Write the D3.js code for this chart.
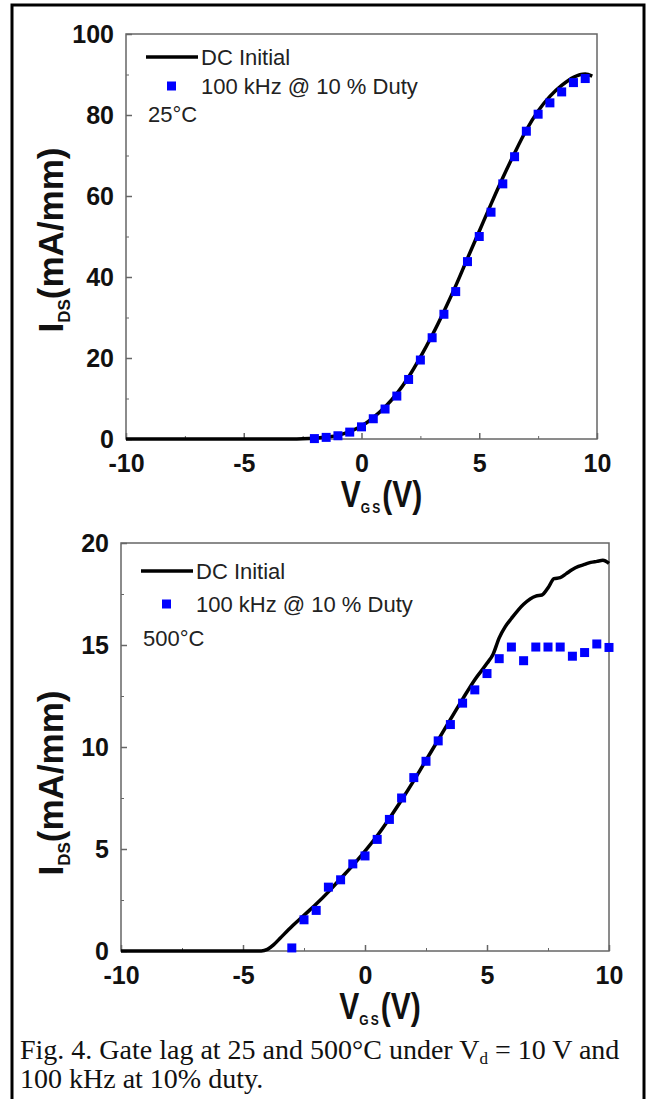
<!DOCTYPE html>
<html>
<head>
<meta charset="utf-8">
<script src="https://cdn.jsdelivr.net/npm/d3@7"></script>
<style>
  body { margin: 0; background: #fff; }
  text { font-family: "Liberation Sans", Arial, sans-serif; }
  text.cap { font-family: "Liberation Serif", "Times New Roman", serif; }
</style>
</head>
<body>
<svg id="fig" width="650" height="1099"></svg>
<script>
// --- data ---
var xTicks = [-10, -5, 0, 5, 10];
var yTicksTop = [0, 20, 40, 60, 80, 100];
var yTicksBot = [0, 5, 10, 15, 20];

// 25 C, DC sweep
var dcVTop = [-10, -9, -8, -7, -6, -5, -4, -3, -2.5, -2, -1.5, -1, -0.5, 0, 0.5, 1, 1.5, 2, 2.5, 3, 3.5, 4, 4.5, 5, 5.5, 6, 6.5, 7, 7.5, 8, 8.5, 9, 9.5, 9.8];
var dcITop = [0, 0, 0, 0, 0, 0, 0, 0, 0.05, 0.2, 0.5, 0.9, 1.8, 3.2, 5.3, 7.9, 11.2, 15.3, 20.2, 25.6, 31.5, 37.8, 44.6, 51.3, 58, 64.5, 70.6, 76.3, 81, 84.6, 87.3, 89.3, 90.1, 89.6];
// 25 C, 100 kHz pulsed
var pulseVTop = [-2, -1.5, -1, -0.5, 0, 0.5, 1, 1.5, 2, 2.5, 3, 3.5, 4, 4.5, 5, 5.5, 6, 6.5, 7, 7.5, 8, 8.5, 9, 9.5];
var pulseITop = [0.1, 0.4, 0.8, 1.7, 3.0, 5.0, 7.4, 10.6, 14.7, 19.5, 25, 30.8, 36.4, 43.8, 50, 56, 63, 69.7, 76, 80.2, 83, 85.7, 88, 89];

// 500 C, DC sweep
var dcVBot = [-10, -8, -6, -5, -4.5, -4.25, -4, -3.75, -3.5, -3, -2.5, -2, -1.5, -1, -0.5, 0, 0.5, 1, 1.5, 2, 2.5, 3, 3.5, 4, 4.5, 5, 5.25, 5.5, 5.75, 6, 6.5, 7, 7.25, 7.5, 7.75, 8, 8.25, 8.5, 8.75, 9, 9.25, 9.5, 9.75, 10];
var dcIBot = [0, 0, 0, 0, 0, 0, 0.08, 0.3, 0.6, 1.2, 1.75, 2.3, 2.9, 3.55, 4.2, 4.9, 5.65, 6.5, 7.4, 8.35, 9.35, 10.35, 11.35, 12.35, 13.3, 14.1, 14.55, 15.35, 15.9, 16.3, 17.0, 17.4, 17.45, 17.8, 18.25, 18.3, 18.5, 18.7, 18.85, 18.95, 19.05, 19.1, 19.15, 19.0];
// 500 C, 100 kHz pulsed
var pulseVBot = [-3, -2.5, -2, -1.5, -1, -0.5, 0, 0.5, 1, 1.5, 2, 2.5, 3, 3.5, 4, 4.5, 5, 5.5, 6, 6.5, 7, 7.5, 8, 8.5, 9, 9.5, 10];
var pulseIBot = [0.15, 1.53, 1.99, 3.13, 3.49, 4.27, 4.66, 5.47, 6.45, 7.5, 8.5, 9.3, 10.3, 11.1, 12.15, 12.8, 13.6, 14.33, 14.9, 14.23, 14.9, 14.9, 14.9, 14.45, 14.63, 15.05, 14.88];

var legendNames = ['DC Initial', '100 kHz @ 10 % Duty'];

var svg = d3.select('#fig');

// outer frame of the figure
svg.append('rect')
	.attr('x', 12).attr('y', 5).attr('width', 632).attr('height', 1096)
	.style('fill', 'none').style('stroke', '#000').style('stroke-width', 3);

function zip(a, b) { return a.map(function (d, i) { return [d, b[i]]; }); }
function plain(d) { return String(d); }

function styleTicks(a, w) {
	a.select('.domain').remove();
	a.selectAll('line').style('stroke', '#666').style('stroke-width', w);
	a.selectAll('text').style('font-size', '25px').style('font-weight', 'bold').style('fill', '#111')
		.attr('font-family', null);
}

function drawPanel(p) {
	var x = d3.scaleLinear().domain([-10, 10]).range([p.left, p.right]),
		y = d3.scaleLinear().domain([0, p.yMax]).range([p.bottom, p.top]),
		g = svg.append('g');

	// plot box
	g.append('rect')
		.attr('x', p.left).attr('y', p.top)
		.attr('width', p.right - p.left).attr('height', p.bottom - p.top)
		.style('fill', 'none').style('stroke', '#666').style('stroke-width', 1.5);

	// minor ticks, then major ticks with labels (all pointing inward)
	var xMinor = d3.range(-7.5, 10, 5), yMinor = d3.range(p.yMinor, p.yMax, p.yMinor * 2);
	g.append('g').attr('transform', 'translate(0,' + p.bottom + ')')
		.call(d3.axisBottom(x).tickValues(xMinor).tickSize(-3).tickFormat(''))
		.call(styleTicks, 1);
	g.append('g').attr('transform', 'translate(' + p.left + ',0)')
		.call(d3.axisLeft(y).tickValues(yMinor).tickSize(-3).tickFormat(''))
		.call(styleTicks, 1);

	g.append('g').attr('transform', 'translate(0,' + p.bottom + ')')
		.call(d3.axisBottom(x).tickValues(xTicks).tickSize(-6).tickPadding(15).tickFormat(plain))
		.call(styleTicks, 1.5);
	g.append('g').attr('transform', 'translate(' + p.left + ',0)')
		.call(d3.axisLeft(y).tickValues(p.yTicks).tickSize(-6).tickPadding(12).tickFormat(plain))
		.call(styleTicks, 1.5);

	// DC curve
	var line = d3.line().x(function (d) { return x(d[0]); }).y(function (d) { return y(d[1]); }).curve(d3.curveMonotoneX);
	g.append('path').datum(zip(p.dcV, p.dcI)).attr('d', line)
		.style('fill', 'none').style('stroke', '#000').style('stroke-width', 3.5).style('stroke-linejoin', 'round');

	// pulsed points
	g.selectAll('rect.pt').data(zip(p.pV, p.pI)).enter().append('rect').attr('class', 'pt')
		.attr('x', function (d) { return x(d[0]) - 4.5; })
		.attr('y', function (d) { return y(d[1]) - 4.5; })
		.attr('width', 9).attr('height', 9)
		.style('fill', '#0000ff');

	// legend
	var lx = p.left, ly = p.top;
	g.append('line').attr('x1', lx + 20).attr('x2', lx + 72).attr('y1', ly + p.leg[0]).attr('y2', ly + p.leg[0])
		.style('stroke', '#000').style('stroke-width', 3.5);
	g.append('rect').attr('x', lx + 41).attr('y', ly + p.leg[1] - 4.5).attr('width', 9).attr('height', 9).style('fill', '#0000ff');
	g.selectAll('text.leg').data(legendNames).enter().append('text').attr('class', 'leg')
		.attr('x', lx + 75).attr('y', function (d, i) { return ly + p.leg[i] + 8; })
		.style('font-size', '22px').style('fill', '#222').text(function (d) { return d; });
	g.append('text').attr('x', lx + 22).attr('y', ly + p.leg[2] + 8)
		.style('font-size', '22px').style('fill', '#222').text(p.temp);

	// axis titles (slightly tall lettering, as in the original)
	var xt = g.append('text')
		.attr('transform', 'translate(' + ((p.left + p.right) / 2 + p.xtdx) + ',' + (p.bottom + 68) + ') scale(1,1.2)')
		.attr('text-anchor', 'middle').style('font-size', '30px').style('font-weight', 'bold').style('fill', '#111');
	xt.append('tspan').text('V');
	xt.append('tspan').attr('dy', 5).style('font-size', '12px').style('letter-spacing', '2px').text('GS');
	xt.append('tspan').attr('dy', -5).text('(V)');

	var yt = g.append('text')
		.attr('transform', 'translate(' + p.ytx + ',' + p.yty + ') rotate(-90)')
		.attr('text-anchor', 'middle').style('font-size', '35px').style('font-weight', 'bold').style('fill', '#111');
	yt.append('tspan').text('I');
	yt.append('tspan').attr('dy', 7).style('font-size', '17px').text('DS');
	yt.append('tspan').attr('dy', -7).text('(mA/mm)');
}

drawPanel({
	left: 126, right: 597, top: 34, bottom: 439, yMax: 100, yTicks: yTicksTop, yMinor: 10,
	dcV: dcVTop, dcI: dcITop, pV: pulseVTop, pI: pulseITop,
	leg: [23, 52, 80], temp: '25\u00b0C', ytx: 63, yty: 240, xtdx: 20
});
drawPanel({
	left: 121, right: 609, top: 543, bottom: 951, yMax: 20, yTicks: yTicksBot, yMinor: 2.5,
	dcV: dcVBot, dcI: dcIBot, pV: pulseVBot, pI: pulseIBot,
	leg: [28, 61, 95], temp: '500\u00b0C', ytx: 63, yty: 783, xtdx: 15
});

// caption
var c1 = svg.append('text').attr('class', 'cap').attr('x', 20).attr('y', 1059).style('font-size', '28px').style('fill', '#111');
c1.append('tspan').text('Fig. 4. Gate lag at 25 and 500\u00b0C under V');
c1.append('tspan').attr('dy', 5).style('font-size', '17px').text('d');
c1.append('tspan').attr('dy', -5).text(' = 10 V and');
svg.append('text').attr('class', 'cap').attr('x', 20).attr('y', 1088).style('font-size', '28px').style('fill', '#111')
	.text('100 kHz at 10% duty.');
</script>
</body>
</html>
